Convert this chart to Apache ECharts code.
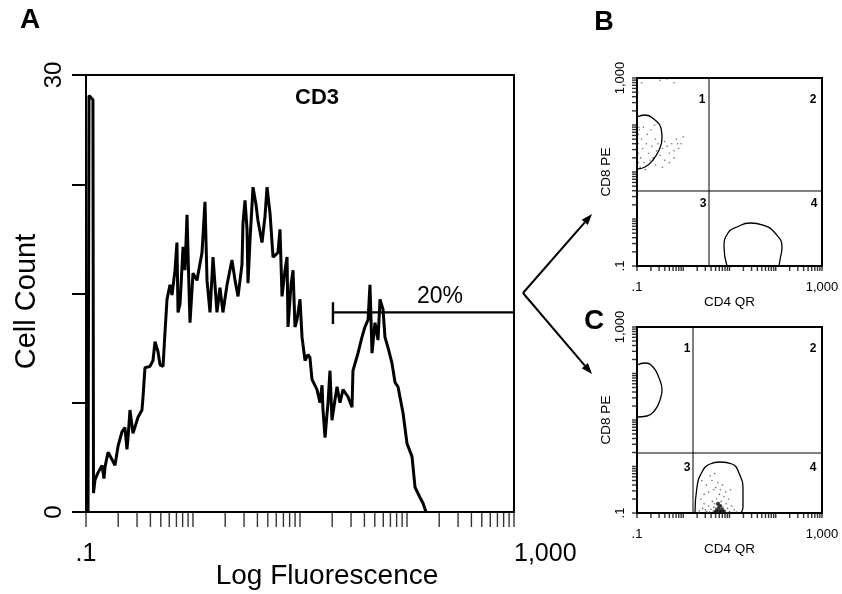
<!DOCTYPE html>
<html><head><meta charset="utf-8">
<script src="https://cdn.jsdelivr.net/npm/echarts@6/dist/echarts.min.js"></script>
<style>html,body{margin:0;padding:0;background:#fff}#c{width:842px;height:594px}</style>
</head><body><div id="c"></div>
<script>
// ---------- Panel A: CD3 histogram (log10 fluorescence, cell count) ----------
const histLogFluor = [-0.981,-0.972,-0.935,-0.930,-0.916,-0.888,-0.850,-0.832,-0.822,-0.794,
  -0.757,-0.729,-0.701,-0.664,-0.636,-0.617,-0.607,-0.589,-0.561,-0.514,
  -0.477,-0.467,-0.449,-0.402,-0.374,-0.355,-0.327,-0.308,-0.280,-0.262,
  -0.243,-0.215,-0.196,-0.168,-0.150,-0.140,-0.121,-0.093,-0.075,-0.056,
  -0.037,-0.028,0,0.037,0.084,0.112,0.131,0.159,0.187,0.224,
  0.252,0.280,0.318,0.364,0.393,0.421,0.458,0.467,0.486,0.505,
  0.514,0.533,0.561,0.589,0.607,0.645,0.673,0.692,0.720,0.748,
  0.794,0.813,0.832,0.860,0.879,0.888,0.916,0.935,0.953,0.972,
  1.0,1.019,1.047,1.075,1.093,1.112,1.159,1.187,1.206,1.215,
  1.234,1.252,1.262,1.280,1.299,1.327,1.346,1.374,1.402,1.421,
  1.449,1.486,1.495,1.542,1.579,1.607,1.636,1.654,1.673,1.701,
  1.729,1.748,1.776,1.794,1.822,1.860,1.888,1.916,1.963,2.0,
  2.047,2.075,2.121,2.150,2.178];
const histCount = [0,28.6,28.3,1.3,2.2,2.7,3.2,2.3,3.1,4.1,
  3.6,3.2,4.5,5.5,5.8,4.3,5.1,7.0,5.4,6.5,
  7.0,7.9,9.9,10.0,10.4,11.7,11.0,10.1,10.0,12.3,
  14.6,15.6,14.9,16.6,18.5,13.7,14.3,18.2,16.6,20.4,
  15.2,13.0,16.4,15.9,17.8,21.3,15.9,13.7,17.5,13.7,
  15.4,13.7,15.6,17.3,15.9,14.8,17.0,19.8,21.4,19.4,
  15.7,18.7,22.3,21.1,20.0,18.5,20.3,22.3,20.5,17.5,
  17.8,19.4,14.8,16.6,17.5,12.7,15.6,16.6,12.7,13.2,
  14.6,12.0,10.4,10.8,10.6,9.1,8.4,7.5,8.7,7.0,
  5.1,6.7,7.5,9.7,6.3,7.7,8.6,7.5,8.4,8.2,
  7.9,7.2,9.7,10.9,12.0,12.7,13.2,15.6,10.9,13.0,
  11.8,14.6,13.9,12.0,11.3,10.2,8.9,8.6,6.8,4.7,
  3.8,1.7,1.0,0.6,0];
const gateLogFluor = [1.308, 3];
const gateCount = 13.7;
const gateEndCounts = [12.9, 14.4];
const logTickValues = [0.1,0.2,0.3,0.4,0.5,0.6,0.7,0.8,0.9,
  1,2,3,4,5,6,7,8,9,10,20,30,40,50,60,70,80,90,
  100,200,300,400,500,600,700,800,900,1000];

// ---------- Panel B: CD4 QR vs CD8 PE (log10 units) ----------
const bGate = [0.557, 0.596];
const bCD8ContourX = [-1.0,-0.827,-0.611,-0.481,-0.459,-0.524,-0.654,-0.827,-1.0];
const bCD8ContourY = [2.17,2.213,2.107,1.936,1.724,1.468,1.256,1.107,1.064];
const bCD4ContourX = [0.946,0.881,0.967,1.162,1.443,1.724,1.984,2.135,2.092,2.070];
const bCD4ContourY = [-1,-0.596,-0.298,-0.170,-0.085,-0.128,-0.298,-0.596,-0.872,-1];
const bDotsX = [-0.97,-0.97,-0.97,-0.97,-0.96,-0.95,-0.93,-0.92,-0.9,-0.88,-0.86,-0.85,-0.82,-0.8,-0.78,-0.75,-0.72,-0.7,-0.68,-0.65,-0.62,-0.6,-0.6,-0.58,-0.55,-0.5,-0.45,-0.45,-0.4,-0.4,-0.35,-0.3,-0.3,-0.25,-0.2,-0.2,-0.15,-0.12,-0.1,-0.05,0.0,-0.9,-0.5,-0.2,-0.98,-0.35];
const bDotsY = [1.2,1.4,1.6,1.8,1.95,1.9,1.1,1.3,1.7,1.5,1.95,1.2,1.05,1.6,1.8,1.4,1.25,1.9,1.55,1.3,2.0,1.7,1.15,1.45,1.6,1.35,1.5,1.1,1.25,1.65,1.55,1.4,1.2,1.6,1.45,1.3,1.7,1.6,1.5,1.6,1.75,2.9,2.95,2.9,2.7,2.98];

// ---------- Panel C ----------
const cGate = [0.211, 0.29];
const cCD8ContourX = [-1,-0.827,-0.654,-0.524,-0.459,-0.503,-0.611,-0.784,-1];
const cCD8ContourY = [2.183,2.226,2.140,1.904,1.646,1.431,1.215,1.086,1.065];
const cCD4ContourX = [0.254,0.297,0.405,0.578,0.794,1.054,1.205,1.292,1.292,1.248];
const cCD4ContourY = [-1,-0.441,-0.118,0.054,0.097,0.054,-0.140,-0.505,-0.871,-1];
const cDotsX = [0.35,0.42,0.5,0.55,0.6,0.65,0.68,0.7,0.72,0.74,0.76,0.78,0.8,0.82,0.84,0.86,0.88,0.9,0.93,0.96,1.0,1.05,1.1,0.45,0.5,0.55,0.62,0.66,0.7,0.75,0.8,0.85,0.92,0.98,1.02,0.58,0.68,0.4,0.45,0.38,0.72,0.76,0.79,0.81,0.77,0.74,0.83,0.69,0.66,0.87,0.63,1.15,0.95,0.53,0.33,0.48,0.57];
const cDotsY = [-0.95,-0.9,-0.97,-0.85,-0.92,-0.96,-0.8,-0.9,-0.7,-0.95,-0.85,-0.6,-0.92,-0.75,-0.98,-0.88,-0.65,-0.95,-0.8,-0.9,-0.97,-0.85,-0.93,-0.6,-0.4,-0.55,-0.3,-0.5,-0.45,-0.35,-0.5,-0.4,-0.55,-0.7,-0.5,-0.2,-0.15,-0.3,-0.8,-0.7,-0.98,-0.99,-0.96,-0.85,-0.78,-0.82,-0.9,-0.97,-0.88,-0.97,-0.75,-0.98,-0.99,-0.99,-0.99,-0.93,-0.98];
const cBlobX = [0.72,0.76,0.8,0.78,0.84,0.7,0.88,0.75,0.82];
const cBlobY = [-0.95,-0.9,-0.85,-0.97,-0.93,-0.98,-0.97,-0.8,-0.98];

// ---------- build ----------
const FONT = '"Liberation Sans", Arial, Helvetica, sans-serif';
const pw = v => Math.pow(10, v);
const pairs = (xs, ys) => xs.map((x, i) => [pw(x), pw(ys[i])]);
const isDec = (v, d) => Math.abs(Math.log10(v) - d) < 1e-6;

const histData = histLogFluor.map((v, i) => [pw(v), histCount[i]]);

function smallAxisX(idx) {
  return {
    type: 'log', logBase: 10, min: 0.1, max: 1000, gridIndex: idx,
    axisLine: { show: true, lineStyle: { color: '#000', width: 2 } },
    axisTick: { show: false }, splitLine: { show: false },
    axisLabel: { color: '#000', fontFamily: FONT, fontSize: 13, margin: 15,
      formatter: v => isDec(v, -1) ? '.1' : (isDec(v, 3) ? '1,000' : '') },
    name: 'CD4 QR', nameLocation: 'middle', nameGap: 24,
    nameTextStyle: { color: '#000', fontFamily: FONT, fontSize: 13.5 }
  };
}
function smallAxisY(idx) {
  return {
    type: 'log', logBase: 10, min: 0.1, max: 1000, gridIndex: idx,
    axisLine: { show: true, lineStyle: { color: '#000', width: 2 } },
    axisTick: { show: false }, splitLine: { show: false },
    axisLabel: { color: '#000', fontFamily: FONT, fontSize: 13, margin: 10, rotate: 90,
      formatter: v => isDec(v, -1) ? '.1' : (isDec(v, 3) ? '1,000' : '') },
    name: 'CD8 PE', nameLocation: 'middle', nameGap: 24, nameRotate: 90,
    nameTextStyle: { color: '#000', fontFamily: FONT, fontSize: 13.5 }
  };
}
function tickSeries(idx, horizontal, len) {
  return {
    type: 'scatter', xAxisIndex: idx, yAxisIndex: idx, silent: true, clip: false,
    symbol: 'rect',
    symbolSize: horizontal ? [1.4, len] : [len, 1.4],
    symbolOffset: horizontal ? [0, len / 2] : [-len / 2, 0],
    itemStyle: { color: '#000' },
    data: logTickValues.map(v => horizontal ? [v, idx === 0 ? 0 : 0.1] : [0.1, v])
  };
}
function lineSeries(idx, data, width, smooth) {
  return { type: 'line', xAxisIndex: idx, yAxisIndex: idx, data, showSymbol: false,
    symbol: 'none', silent: true, clip: false, smooth: smooth || false,
    lineStyle: { color: '#000', width } };
}
function dotSeries(idx, xs, ys, size, color) {
  return { type: 'scatter', xAxisIndex: idx, yAxisIndex: idx, silent: true, clip: false,
    symbolSize: size, itemStyle: { color }, data: pairs(xs, ys) };
}

const series = [
  lineSeries(0, histData, 3),
  lineSeries(0, gateLogFluor.map(v => [pw(v), gateCount]), 2.2),
  lineSeries(0, gateEndCounts.map(c => [pw(gateLogFluor[0]), c]), 2.4),
  tickSeries(0, true, 15),
  // B
  lineSeries(1, [[pw(bGate[0]), 0.1], [pw(bGate[0]), 1000]], 1),
  lineSeries(1, [[0.1, pw(bGate[1])], [1000, pw(bGate[1])]], 1),
  dotSeries(1, bDotsX, bDotsY, 1.6, '#555'),
  lineSeries(1, pairs(bCD8ContourX, bCD8ContourY), 1.3, 0.5),
  lineSeries(1, pairs(bCD4ContourX, bCD4ContourY), 1.3, 0.5),
  tickSeries(1, true, 5), tickSeries(1, false, 5),
  // C
  lineSeries(2, [[pw(cGate[0]), 0.1], [pw(cGate[0]), 1000]], 1),
  lineSeries(2, [[0.1, pw(cGate[1])], [1000, pw(cGate[1])]], 1),
  dotSeries(2, cDotsX, cDotsY, 1.6, '#444'),
  dotSeries(2, cBlobX, cBlobY, 4, '#111'),
  lineSeries(2, pairs(cCD8ContourX, cCD8ContourY), 1.3, 0.5),
  lineSeries(2, pairs(cCD4ContourX, cCD4ContourY), 1.3, 0.5),
  tickSeries(2, true, 5), tickSeries(2, false, 5)
];

function txt(x, y, text, size, weight, rot) {
  return { type: 'text', x, y, rotation: rot || 0, silent: true,
    style: { text, fill: '#000', font: (weight || 'normal') + ' ' + size + 'px ' + FONT,
      align: 'center', verticalAlign: 'middle' } };
}
function arrow(x1, y1, x2, y2) {
  const dx = x2 - x1, dy = y2 - y1, L = Math.hypot(dx, dy), ux = dx / L, uy = dy / L;
  const bx = x2 - 11 * ux, by = y2 - 11 * uy, px = -uy * 4, py = ux * 4;
  return [
    { type: 'polyline', silent: true, shape: { points: [[x1, y1], [bx, by]] }, style: { stroke: '#000', lineWidth: 2, fill: null } },
    { type: 'polygon', silent: true, shape: { points: [[x2, y2], [bx + px, by + py], [bx - px, by - py]] }, style: { fill: '#000' } }
  ];
}

const option = {
  backgroundColor: '#fff',
  animation: false,
  grid: [
    { left: 86, right: 328, top: 75, bottom: 82, show: true, borderColor: '#000', borderWidth: 2, outerBoundsMode: 'none', containLabel: false },
    { left: 637, right: 20, top: 78, bottom: 328, show: true, borderColor: '#000', borderWidth: 2, outerBoundsMode: 'none', containLabel: false },
    { left: 637, right: 20, top: 327, bottom: 81, show: true, borderColor: '#000', borderWidth: 2, outerBoundsMode: 'none', containLabel: false }
  ],
  xAxis: [
    { type: 'log', logBase: 10, min: 0.1, max: 1000, gridIndex: 0,
      axisLine: { show: true, lineStyle: { color: '#000', width: 2 } },
      axisTick: { show: false }, splitLine: { show: false },
      axisLabel: { color: '#000', fontFamily: FONT, fontSize: 25, margin: 30, alignMaxLabel: 'left',
        formatter: v => isDec(v, -1) ? '.1' : (isDec(v, 3) ? '1,000' : '') },
      name: 'Log Fluorescence', nameLocation: 'middle', nameGap: 50, nameMoveOverlap: false,
      nameTextStyle: { color: '#000', fontFamily: FONT, fontSize: 28, padding: [0, 0, 0, 54] } },
    smallAxisX(1), smallAxisX(2)
  ],
  yAxis: [
    { type: 'value', min: 0, max: 30, interval: 7.5, gridIndex: 0,
      axisLine: { show: true, lineStyle: { color: '#000', width: 2 } },
      axisTick: { show: true, length: 14, lineStyle: { color: '#000', width: 2 } },
      splitLine: { show: false },
      axisLabel: { color: '#000', fontFamily: FONT, fontSize: 24, margin: 20, rotate: 90,
        formatter: v => (v === 0 || v === 30) ? String(v) : '' },
      name: 'Cell Count', nameLocation: 'middle', nameGap: 45, nameRotate: 90, nameMoveOverlap: false,
      nameTextStyle: { color: '#000', fontFamily: FONT, fontSize: 29, padding: [0, 16, 0, 0] } },
    smallAxisY(1), smallAxisY(2)
  ],
  series,
  graphic: [
    txt(30, 20, 'A', 28, 'bold'),
    txt(604, 23, 'B', 27, 'bold'),
    txt(594, 321, 'C', 28, 'bold'),
    txt(317, 98, 'CD3', 22, 'bold'),
    txt(440, 297, '20%', 23),
    txt(702, 100, '1', 12, 'bold'), txt(813, 100, '2', 12, 'bold'),
    txt(703, 204, '3', 12, 'bold'), txt(814, 204, '4', 12, 'bold'),
    txt(687, 349, '1', 12, 'bold'), txt(813, 349, '2', 12, 'bold'),
    txt(687, 468, '3', 12, 'bold'), txt(813, 468, '4', 12, 'bold'),
    ...arrow(523, 293, 592, 214),
    ...arrow(523, 293, 592, 374)
  ]
};
const chart = echarts.init(document.getElementById('c'), null, { renderer: 'canvas' });
chart.setOption(option);
</script>
</body></html>
